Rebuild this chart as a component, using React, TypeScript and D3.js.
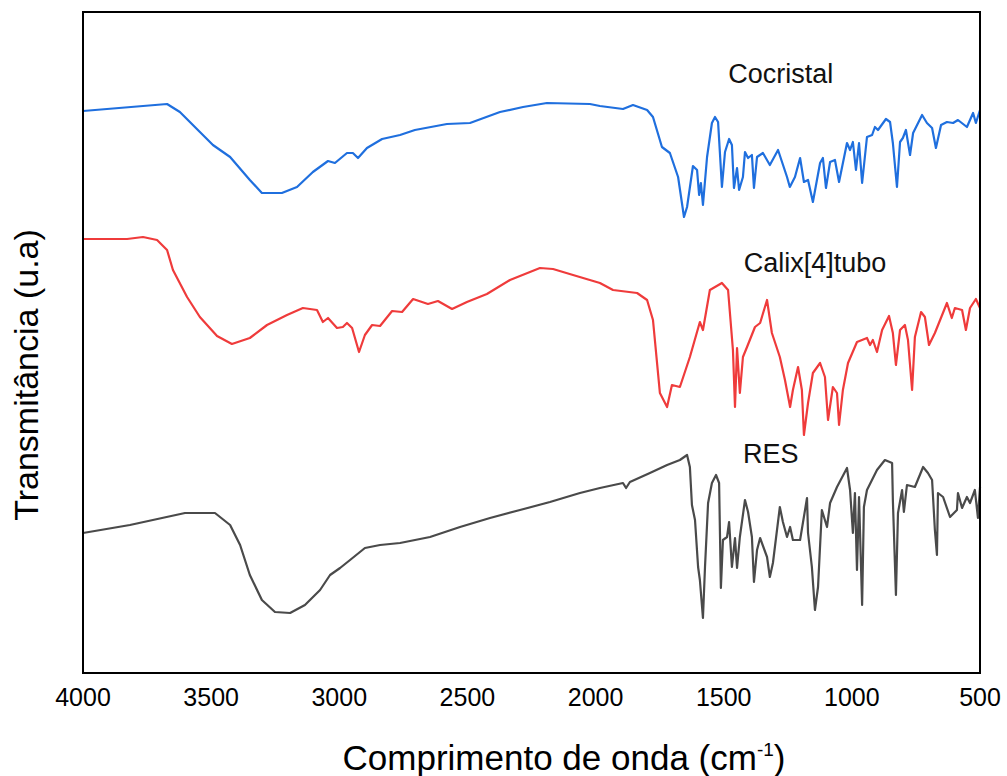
import * as d3 from 'd3';

// FTIR spectra, wavenumber (cm-1) / transmittance (a.u., offset per curve)
const cocristalWave = [4000, 3672, 3622, 3493, 3426, 3349, 3302, 3224, 3165, 3103, 3044, 3017, 2970, 2947, 2927, 2892, 2833, 2763, 2705, 2580, 2490, 2373, 2283, 2190, 2022, 1983, 1893, 1854, 1799, 1776, 1741, 1710, 1678, 1655, 1643, 1620, 1604, 1596, 1589, 1581, 1565, 1546, 1534, 1522, 1507, 1495, 1479, 1468, 1460, 1448, 1440, 1425, 1417, 1405, 1390, 1382, 1370, 1347, 1320, 1288, 1253, 1242, 1222, 1202, 1187, 1171, 1152, 1124, 1113, 1101, 1085, 1066, 1050, 1019, 1007, 996, 984, 972, 960, 941, 921, 910, 898, 867, 851, 840, 824, 812, 801, 789, 773, 761, 726, 707, 687, 672, 652, 629, 605, 586, 551, 527, 516, 500];
const cocristalT = [562, 569, 561, 528, 516, 493, 480, 480, 486, 501, 512, 510, 520, 520, 515, 525, 534, 538, 543, 549, 550, 561, 566, 570, 569, 567, 564, 568, 563, 556, 526, 520, 496, 456, 466, 507, 503, 478, 490, 468, 516, 550, 556, 551, 486, 521, 534, 528, 485, 505, 483, 496, 521, 515, 518, 485, 516, 520, 508, 523, 496, 486, 496, 515, 491, 493, 471, 510, 515, 485, 511, 513, 491, 530, 523, 531, 503, 530, 490, 536, 538, 546, 543, 554, 551, 530, 486, 531, 535, 543, 518, 540, 558, 550, 545, 525, 548, 551, 550, 553, 546, 560, 550, 563];

const calixWave = [4000, 3828, 3766, 3711, 3672, 3649, 3594, 3544, 3477, 3419, 3349, 3282, 3204, 3142, 3087, 3064, 3044, 3009, 2986, 2970, 2950, 2923, 2900, 2872, 2841, 2794, 2755, 2712, 2654, 2615, 2560, 2502, 2424, 2334, 2217, 2166, 2088, 1983, 1932, 1838, 1799, 1776, 1749, 1721, 1702, 1671, 1632, 1593, 1581, 1554, 1507, 1483, 1464, 1456, 1448, 1437, 1425, 1409, 1378, 1358, 1331, 1312, 1281, 1261, 1241, 1230, 1210, 1195, 1187, 1171, 1152, 1124, 1105, 1093, 1074, 1058, 1050, 1035, 1015, 980, 941, 929, 918, 902, 882, 855, 840, 828, 812, 793, 781, 765, 754, 730, 715, 699, 676, 629, 610, 598, 570, 555, 539, 516, 500];
const calixT = [434, 434, 436, 433, 423, 403, 376, 356, 337, 329, 335, 348, 358, 365, 363, 351, 355, 345, 346, 350, 345, 321, 338, 348, 347, 362, 361, 374, 369, 372, 364, 371, 379, 393, 405, 404, 398, 390, 383, 380, 373, 353, 280, 266, 288, 286, 316, 351, 343, 383, 390, 383, 323, 266, 325, 280, 316, 326, 346, 350, 373, 340, 316, 293, 266, 283, 306, 283, 238, 270, 300, 310, 296, 253, 286, 280, 248, 283, 310, 331, 335, 328, 333, 321, 343, 357, 340, 308, 343, 348, 333, 283, 336, 361, 356, 328, 340, 370, 355, 365, 363, 343, 365, 374, 365];

const resWave = [4000, 3817, 3602, 3485, 3426, 3387, 3349, 3302, 3251, 3192, 3134, 3075, 3036, 2997, 2958, 2900, 2841, 2763, 2646, 2529, 2412, 2295, 2178, 2061, 1983, 1893, 1881, 1866, 1788, 1721, 1671, 1643, 1632, 1624, 1612, 1600, 1593, 1581, 1573, 1561, 1546, 1530, 1518, 1511, 1503, 1487, 1479, 1468, 1456, 1448, 1437, 1417, 1405, 1390, 1382, 1370, 1358, 1331, 1320, 1308, 1281, 1269, 1253, 1241, 1230, 1202, 1175, 1171, 1156, 1144, 1132, 1117, 1097, 1085, 1058, 1019, 1007, 996, 988, 980, 972, 960, 953, 941, 902, 871, 843, 840, 828, 820, 804, 797, 785, 754, 722, 703, 687, 676, 668, 664, 644, 617, 590, 586, 570, 551, 539, 520, 508, 500];
const resT = [140, 148, 160, 160, 148, 128, 98, 73, 61, 60, 68, 83, 98, 105, 113, 125, 128, 130, 136, 146, 155, 163, 171, 180, 185, 190, 185, 191, 200, 208, 213, 218, 206, 168, 153, 106, 93, 55, 106, 170, 190, 198, 190, 85, 133, 136, 151, 106, 135, 105, 136, 173, 161, 136, 91, 123, 135, 116, 96, 110, 166, 151, 136, 146, 133, 133, 175, 140, 106, 63, 86, 163, 146, 170, 186, 205, 183, 140, 180, 103, 176, 68, 166, 183, 203, 213, 210, 173, 78, 160, 183, 161, 188, 186, 206, 200, 193, 143, 118, 180, 176, 156, 163, 180, 165, 176, 170, 183, 155, 186];

const xTicks = [4000, 3500, 3000, 2500, 2000, 1500, 1000, 500];

const series = [
  { name: 'Cocristal', wave: cocristalWave, t: cocristalT, color: '#1f6fde', labelWave: 1277, labelT: 590 },
  { name: 'Calix[4]tubo', wave: calixWave, t: calixT, color: '#ef3b3b', labelWave: 1144, labelT: 401 },
  { name: 'RES', wave: resWave, t: resT, color: '#4a4a4a', labelWave: 1316, labelT: 210 },
];

const W = 1007;
const H = 776;
const margin = { top: 12, right: 27, bottom: 103, left: 83 };
const font = 'Arial, "Liberation Sans", sans-serif';

export default function App() {
  const x = d3.scaleLinear().domain([4000, 500]).range([margin.left, W - margin.right]);
  const y = d3.scaleLinear().domain([0, 661]).range([H - margin.bottom, margin.top]);

  return (
    <svg width={W} height={H} style={{ position: 'absolute', left: 0, top: 0, background: '#fff' }}>
      {series.map((s) => {
        const pts: [number, number][] = s.wave.map((w, i) => [w, s.t[i]]);
        const line = d3.line<[number, number]>()
          .x((d) => x(d[0]))
          .y((d) => y(d[1]));
        return (
          <g key={s.name}>
            <path d={line(pts) || ''} fill="none" stroke={s.color} strokeWidth={2.2} strokeLinejoin="round" />
            <text x={x(s.labelWave)} y={y(s.labelT)} textAnchor="middle" fontFamily={font} fontSize={27} fill="#111">
              {s.name}
            </text>
          </g>
        );
      })}

      {/* frame */}
      <rect x={margin.left} y={margin.top} width={W - margin.left - margin.right} height={H - margin.top - margin.bottom}
        fill="none" stroke="#000" strokeWidth={2} />

      {xTicks.map((t) => (
        <text key={t} x={x(t)} y={H - margin.bottom + 33} textAnchor="middle" fontFamily={font} fontSize={25} fill="#000">
          {t}
        </text>
      ))}

      <text x={564} y={770} textAnchor="middle" fontFamily={font} fontSize={35} fill="#000">
        Comprimento de onda (cm<tspan dy={-14} fontSize={19}>-1</tspan><tspan dy={14}>)</tspan>
      </text>

      <text transform={`translate(38, 375) rotate(-90)`} textAnchor="middle"
        fontFamily={font} fontSize={34} fill="#000">
        Transmitância (u.a)
      </text>
    </svg>
  );
}
